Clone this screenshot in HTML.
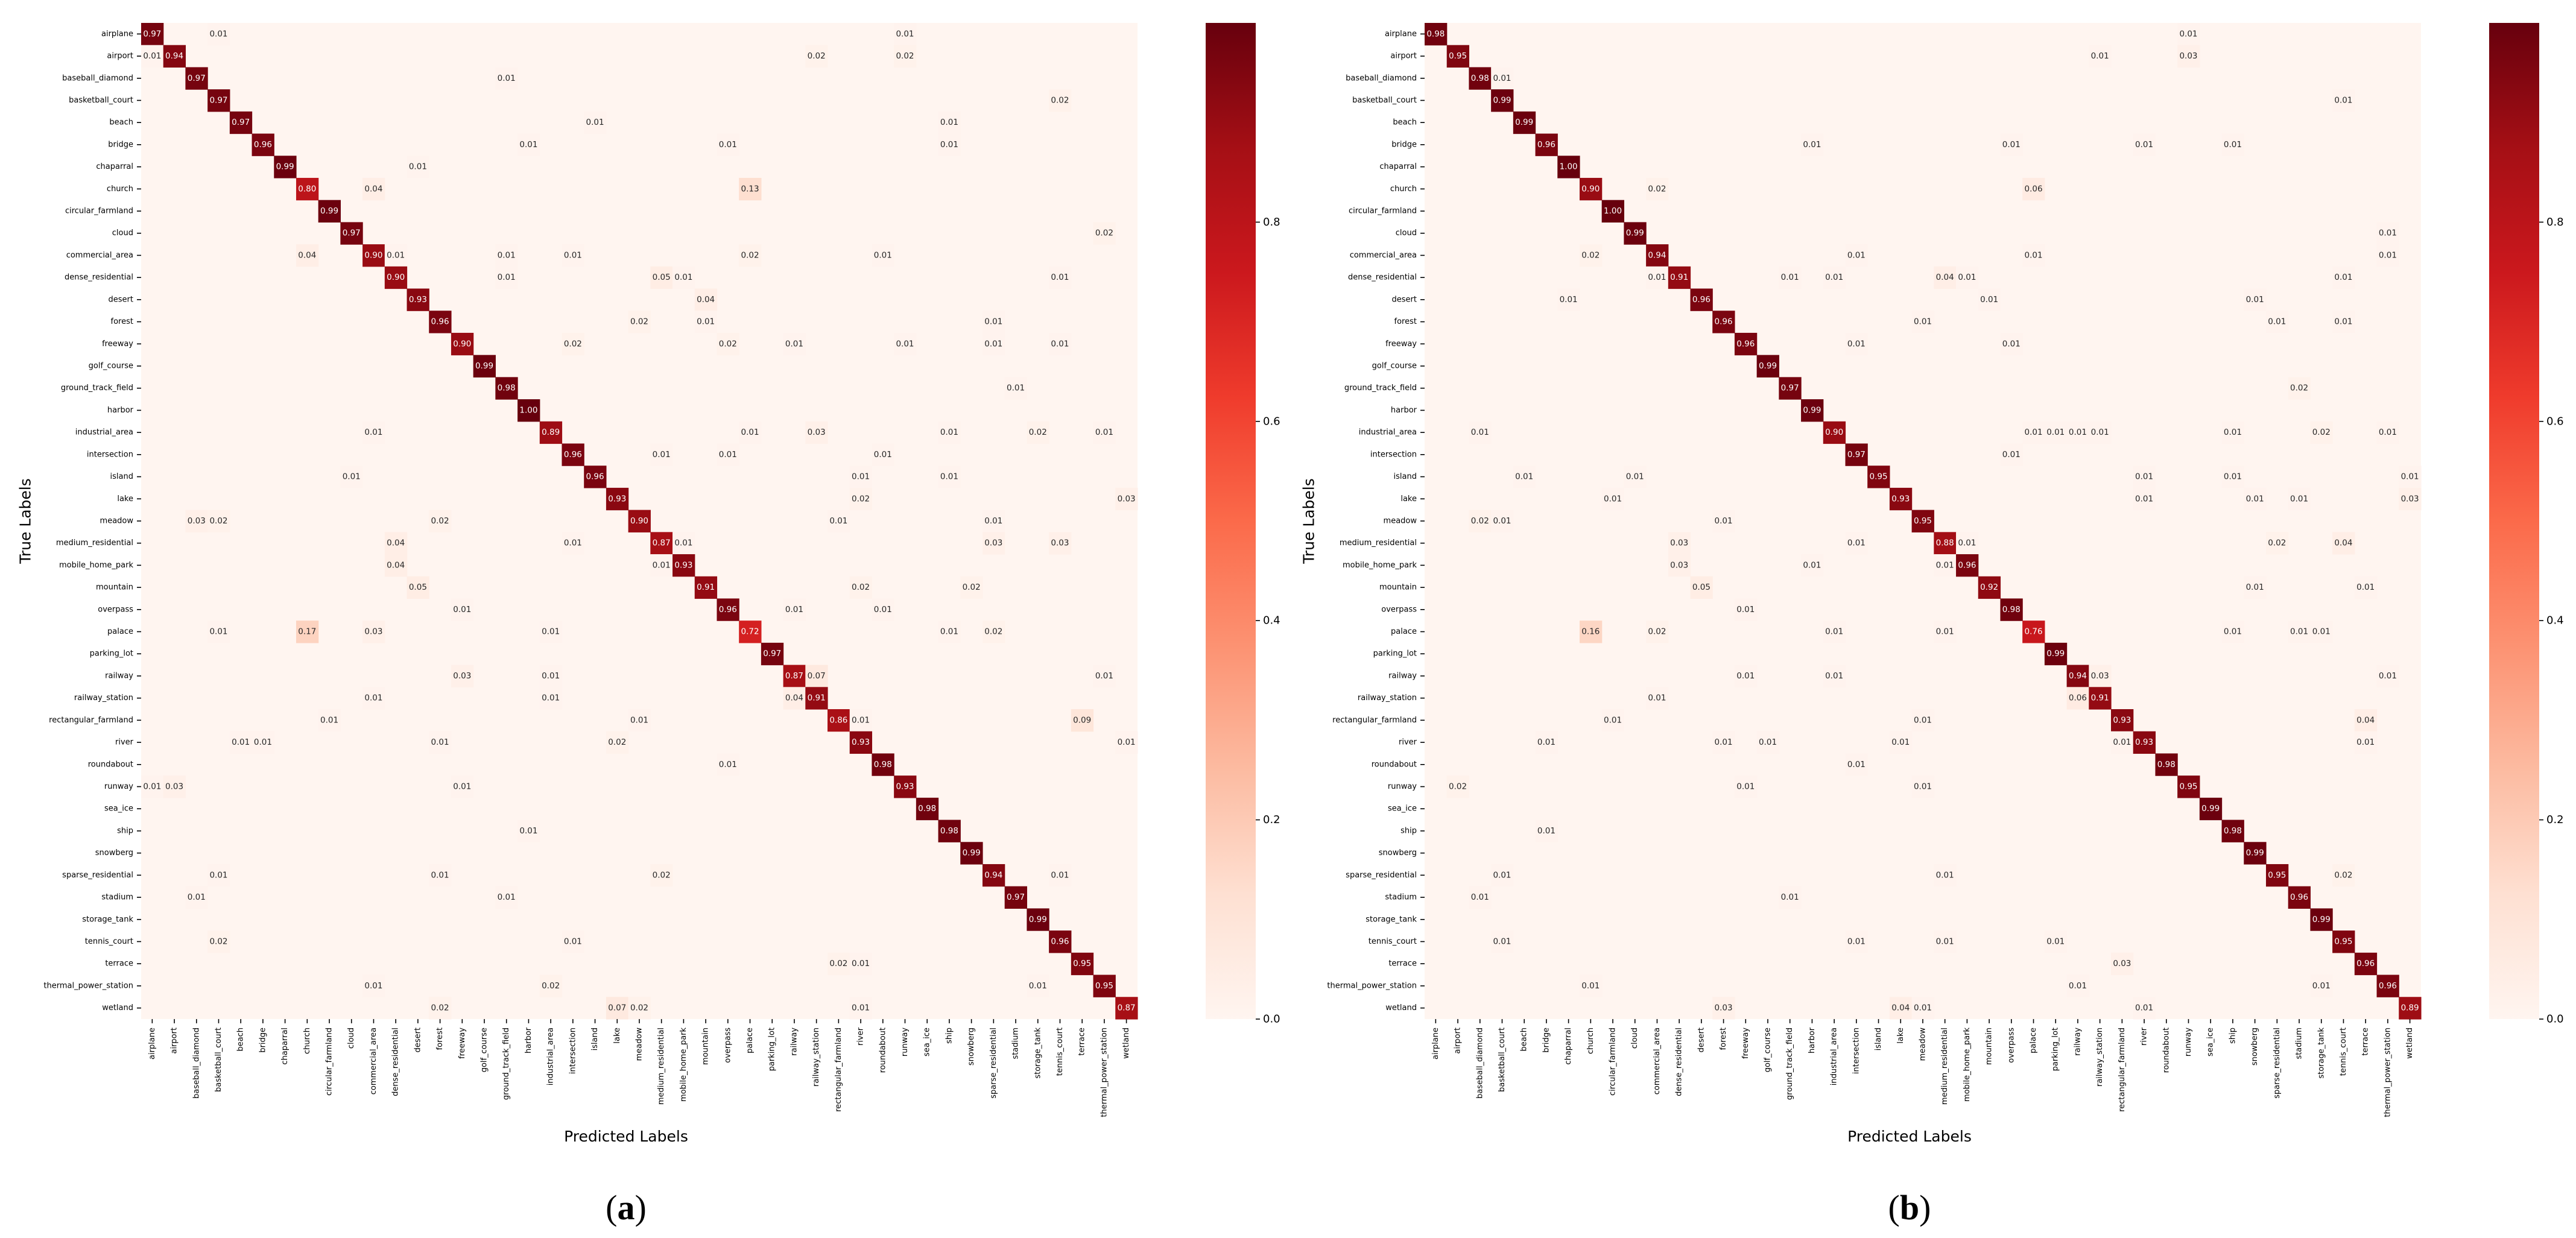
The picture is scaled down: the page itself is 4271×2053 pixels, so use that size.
<!DOCTYPE html>
<html>
<head>
<meta charset="utf-8">
<style>
  html,body{margin:0;padding:0;background:#fff;}
  svg{display:block;}
  text{font-family:"DejaVu Sans","Liberation Sans",sans-serif;}
</style>
</head>
<body>
<svg id="fig" xmlns="http://www.w3.org/2000/svg" width="4271" height="2053" viewBox="0 0 4271 2053">
  <defs>
    <linearGradient id="redsGrad" x1="0" y1="1" x2="0" y2="0">
      <stop offset="0" stop-color="#fff5f0"/>
      <stop offset="0.125" stop-color="#fee0d2"/>
      <stop offset="0.25" stop-color="#fcbba1"/>
      <stop offset="0.375" stop-color="#fc9272"/>
      <stop offset="0.5" stop-color="#fb6a4a"/>
      <stop offset="0.625" stop-color="#ef3b2c"/>
      <stop offset="0.75" stop-color="#cb181d"/>
      <stop offset="0.875" stop-color="#a50f15"/>
      <stop offset="1" stop-color="#67000d"/>
    </linearGradient>
  </defs>
  <g id="panelA"></g>
  <g id="panelB"></g>
</svg>
<script>
const classes = ["airplane","airport","baseball_diamond","basketball_court","beach","bridge","chaparral","church","circular_farmland","cloud","commercial_area","dense_residential","desert","forest","freeway","golf_course","ground_track_field","harbor","industrial_area","intersection","island","lake","meadow","medium_residential","mobile_home_park","mountain","overpass","palace","parking_lot","railway","railway_station","rectangular_farmland","river","roundabout","runway","sea_ice","ship","snowberg","sparse_residential","stadium","storage_tank","tennis_court","terrace","thermal_power_station","wetland"];

const diagA = [0.97,0.94,0.97,0.97,0.97,0.96,0.99,0.80,0.99,0.97,0.90,0.90,0.93,0.96,0.90,0.99,0.98,1.00,0.89,0.96,0.96,0.93,0.90,0.87,0.93,0.91,0.96,0.72,0.97,0.87,0.91,0.86,0.93,0.98,0.93,0.98,0.98,0.99,0.94,0.97,0.99,0.96,0.95,0.95,0.87];

const diagB = [0.98,0.95,0.98,0.99,0.99,0.96,1.00,0.90,1.00,0.99,0.94,0.91,0.96,0.96,0.96,0.99,0.97,0.99,0.90,0.97,0.95,0.93,0.95,0.88,0.96,0.92,0.98,0.76,0.99,0.94,0.91,0.93,0.93,0.98,0.95,0.99,0.98,0.99,0.95,0.96,0.99,0.95,0.96,0.96,0.89];

const offA = [
[0,3,.01],[0,34,.01],
[1,0,.01],[1,30,.02],[1,34,.02],
[2,16,.01],
[3,41,.02],
[4,20,.01],[4,36,.01],
[5,17,.01],[5,26,.01],[5,36,.01],
[6,12,.01],
[7,10,.04],[7,27,.13],
[9,43,.02],
[10,7,.04],[10,11,.01],[10,16,.01],[10,19,.01],[10,27,.02],[10,33,.01],
[11,16,.01],[11,23,.05],[11,24,.01],[11,41,.01],
[12,25,.04],
[13,22,.02],[13,25,.01],[13,38,.01],
[14,19,.02],[14,26,.02],[14,29,.01],[14,34,.01],[14,38,.01],[14,41,.01],
[16,39,.01],
[18,10,.01],[18,27,.01],[18,30,.03],[18,36,.01],[18,40,.02],[18,43,.01],
[19,23,.01],[19,26,.01],[19,33,.01],
[20,9,.01],[20,32,.01],[20,36,.01],
[21,32,.02],[21,44,.03],
[22,2,.03],[22,3,.02],[22,13,.02],[22,31,.01],[22,38,.01],
[23,11,.04],[23,19,.01],[23,24,.01],[23,38,.03],[23,41,.03],
[24,11,.04],[24,23,.01],
[25,12,.05],[25,32,.02],[25,37,.02],
[26,14,.01],[26,29,.01],[26,33,.01],
[27,3,.01],[27,7,.17],[27,10,.03],[27,18,.01],[27,36,.01],[27,38,.02],
[29,14,.03],[29,18,.01],[29,30,.07],[29,43,.01],
[30,10,.01],[30,18,.01],[30,29,.04],
[31,8,.01],[31,22,.01],[31,32,.01],[31,42,.09],
[32,4,.01],[32,5,.01],[32,13,.01],[32,21,.02],[32,44,.01],
[33,26,.01],
[34,0,.01],[34,1,.03],[34,14,.01],
[36,17,.01],
[38,3,.01],[38,13,.01],[38,23,.02],[38,41,.01],
[39,2,.01],[39,16,.01],
[41,3,.02],[41,19,.01],
[42,31,.02],[42,32,.01],
[43,10,.01],[43,18,.02],[43,40,.01],
[44,13,.02],[44,21,.07],[44,22,.02],[44,32,.01]
];

const offB = [
[0,34,.01],
[1,30,.01],[1,34,.03],
[2,3,.01],
[3,41,.01],
[5,17,.01],[5,26,.01],[5,32,.01],[5,36,.01],
[7,10,.02],[7,27,.06],
[9,43,.01],
[10,7,.02],[10,19,.01],[10,27,.01],[10,43,.01],
[11,10,.01],[11,16,.01],[11,18,.01],[11,23,.04],[11,24,.01],[11,41,.01],
[12,6,.01],[12,25,.01],[12,37,.01],
[13,22,.01],[13,38,.01],[13,41,.01],
[14,19,.01],[14,26,.01],
[16,39,.02],
[18,2,.01],[18,27,.01],[18,28,.01],[18,29,.01],[18,30,.01],[18,36,.01],[18,40,.02],[18,43,.01],
[19,26,.01],
[20,4,.01],[20,9,.01],[20,32,.01],[20,36,.01],[20,44,.01],
[21,8,.01],[21,32,.01],[21,37,.01],[21,39,.01],[21,44,.03],
[22,2,.02],[22,3,.01],[22,13,.01],
[23,11,.03],[23,19,.01],[23,24,.01],[23,38,.02],[23,41,.04],
[24,11,.03],[24,17,.01],[24,23,.01],
[25,12,.05],[25,37,.01],[25,42,.01],
[26,14,.01],
[27,7,.16],[27,10,.02],[27,18,.01],[27,23,.01],[27,36,.01],[27,39,.01],[27,40,.01],
[29,14,.01],[29,18,.01],[29,30,.03],[29,43,.01],
[30,10,.01],[30,29,.06],
[31,8,.01],[31,22,.01],[31,42,.04],
[32,5,.01],[32,13,.01],[32,15,.01],[32,21,.01],[32,31,.01],[32,42,.01],
[33,19,.01],
[34,1,.02],[34,14,.01],[34,22,.01],
[36,5,.01],
[38,3,.01],[38,23,.01],[38,41,.02],
[39,2,.01],[39,16,.01],
[41,3,.01],[41,19,.01],[41,23,.01],[41,28,.01],
[42,31,.03],
[43,7,.01],[43,29,.01],[43,40,.01],
[44,13,.03],[44,21,.04],[44,22,.01],[44,32,.01]
];

const cbTicks = [0.0, 0.2, 0.4, 0.6, 0.8];
const cbTickLabels = ["0.0","0.2","0.4","0.6","0.8"];
const captionLetters = ["a","b"];

const NS = "http://www.w3.org/2000/svg";
const REDS = [[255,245,240],[254,224,210],[252,187,161],[252,146,114],[251,106,74],[239,59,44],[203,24,29],[165,15,21],[103,0,13]];
function reds(t){
  t = Math.max(0, Math.min(1, t));
  const p = t*(REDS.length-1), i = Math.min(Math.floor(p), REDS.length-2), f = p-i;
  const a = REDS[i], b = REDS[i+1];
  return "rgb("+[0,1,2].map(k=>Math.round(a[k]+(b[k]-a[k])*f)).join(",")+")";
}
function el(tag, attrs, parent){
  const e = document.createElementNS(NS, tag);
  for (const k in attrs) e.setAttribute(k, attrs[k]);
  parent.appendChild(e);
  return e;
}

const N = classes.length;
const TOP = 38, CELL = 36.71;
const VMIN = 0, VMAX = 1.0;

function drawPanel(g, x0, diag, off, letter, tag){
  const xs = i => x0 + i*CELL;
  const ys = i => TOP + i*CELL;
  const size = N*CELL;
  const M = [];
  for (let r=0;r<N;r++){ M.push(new Array(N).fill(0)); M[r][r] = diag[r]; }
  off.forEach(d => { M[d[0]][d[1]] = d[2]; });
  const bg = el("rect", {x:x0, y:TOP, width:size, height:size, fill:reds(0)}, g);
  
  
  for (let r=0;r<N;r++){
    for (let c=0;c<N;c++){
      const v = M[r][c];
      if (v <= 0) continue;
      const t = (v-VMIN)/(VMAX-VMIN);
      const cell = el("rect", {x:xs(c), y:ys(r), width:CELL+0.6, height:CELL+0.6, fill:reds(t)}, g);
      
      
      const tx = el("text", {x:xs(c)+CELL/2, y:ys(r)+CELL/2, "text-anchor":"middle", "dominant-baseline":"central", "font-size":"13.5", fill: t>0.45 ? "#ffffff" : "#262626"}, g);
      tx.textContent = v.toFixed(2);
      
      
    }
  }
  for (let r=0;r<N;r++){
    const cy = ys(r)+CELL/2;
    el("line", {x1:x0-7, y1:cy, x2:x0, y2:cy, stroke:"#000", "stroke-width":"1.6"}, g);
    const t = el("text", {x:x0-13, y:cy, "text-anchor":"end", "dominant-baseline":"central", "font-size":"13", fill:"#000"}, g);
    t.textContent = classes[r];
    
    
  }
  const yb = TOP+size;
  for (let c=0;c<N;c++){
    const cx = xs(c)+CELL/2;
    el("line", {x1:cx, y1:yb, x2:cx, y2:yb+7, stroke:"#000", "stroke-width":"1.6"}, g);
    const t = el("text", {transform:"translate("+cx+","+(yb+14)+") rotate(-90)", x:0, y:0, "text-anchor":"end", "dominant-baseline":"central", "font-size":"13", fill:"#000"}, g);
    t.textContent = classes[c];
    
    
  }
  const xt = el("text", {x:x0+size/2 - 22, y:1893, "text-anchor":"middle", "font-size":"25", fill:"#000"}, g);
  xt.textContent = "Predicted Labels";
  
  
  const yt = el("text", {transform:"translate("+(x0-192)+","+(TOP+size/2)+") rotate(-90)", x:0, y:0, "text-anchor":"middle", "dominant-baseline":"central", "font-size":"25", fill:"#000"}, g);
  yt.textContent = "True Labels";
  
  
  const cbx = x0 + 1765, cbw = 83;
  const cb = el("rect", {x:cbx, y:TOP, width:cbw, height:size, fill:"url(#redsGrad)"}, g);
  
  
  const cy = v => TOP + size - (v-VMIN)/(VMAX-VMIN)*size;
  cbTicks.forEach((v,i) => {
    const y = cy(v);
    el("line", {x1:cbx+cbw, y1:y, x2:cbx+cbw+7, y2:y, stroke:"#000", "stroke-width":"1.6"}, g);
    const t = el("text", {x:cbx+cbw+12, y:y, "dominant-baseline":"central", "font-size":"18", fill:"#000"}, g);
    t.textContent = cbTickLabels[i];
    
    
  });
  const cap = el("text", {x:x0+size/2 - 22, y:2022, "text-anchor":"middle", "font-size":"58", fill:"#000", style:"font-family:'Liberation Serif',serif"}, g);
  
  
  const p1 = el("tspan", {}, cap); p1.textContent = "(";
  const p2 = el("tspan", {"font-weight":"bold"}, cap); p2.textContent = letter;
  const p3 = el("tspan", {}, cap); p3.textContent = ")";
}

drawPanel(document.getElementById("panelA"), 234, diagA, offA, captionLetters[0], "a");
drawPanel(document.getElementById("panelB"), 2362, diagB, offB, captionLetters[1], "b");
</script>
</body>
</html>
